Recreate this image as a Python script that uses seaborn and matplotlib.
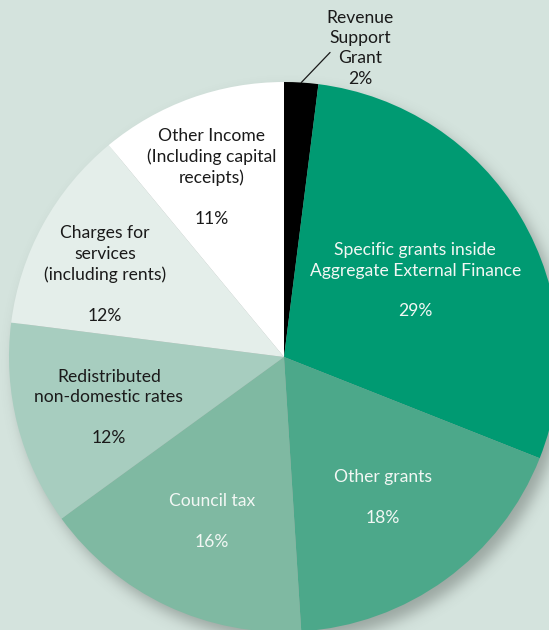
import math
import numpy as np
import matplotlib
matplotlib.use("Agg")
import matplotlib.pyplot as plt
import seaborn as sns

# Sources of income, listed clockwise from twelve o'clock
categories = [
    "Revenue\nSupport\nGrant",
    "Specific grants inside\nAggregate External Finance",
    "Other grants",
    "Council tax",
    "Redistributed\nnon-domestic rates",
    "Charges for\nservices\n(including rents)",
    "Other Income\n(Including capital\nreceipts)",
]
shares = [2, 29, 18, 16, 12, 12, 11]

slice_colors = ["#000000", "#009a72", "#4ca88a", "#7fb9a2", "#a7cdbf", "#e4eeea", "#ffffff"]
text_colors = ["#1a1a1a", "#f2f7f4", "#f2f7f4", "#f2f7f4", "#1a1a1a", "#1a1a1a", "#1a1a1a"]
# label placement inside each slice: distance from the centre as a fraction
# of the radius, and a small turn (degrees) away from the slice's mid-line
label_radius = [None, 0.555, 0.62, 0.648, 0.661, 0.719, 0.709]
label_turn = [0.0, 0.0, -0.5, 1.4, 1.2, 3.7, 2.0]

sns.set_theme(style="white")
plt.rcParams["font.family"] = ["Lato", "DejaVu Sans"]

W, H = 549, 630
BG = "#d4e3dd"
fig = plt.figure(figsize=(W / 100, H / 100), dpi=100)
fig.patch.set_facecolor(BG)
ax = fig.add_axes([0, 0, 1, 1])
ax.set_facecolor(BG)

cx, cy, R = 284.0, H - 357.0, 275.0

# soft drop shadow beneath the pie, shifted down and to the right
sx, sy, sigma, a0 = 7.0, -9.0, 7.0, 0.42
yy, xx = np.mgrid[0:H, 0:W] + 0.5
d = np.hypot(xx - (cx + sx), yy - (cy + sy))
erfc = np.vectorize(math.erfc)
alpha = a0 * 0.5 * erfc((d - R) / (math.sqrt(2) * sigma))
shadow = np.zeros((H, W, 4))
shadow[..., 0] = 0.30
shadow[..., 1] = 0.33
shadow[..., 2] = 0.31
shadow[..., 3] = alpha
ax.imshow(shadow, extent=(0, W, 0, H), origin="lower", zorder=0, interpolation="bilinear")

wedges, _ = ax.pie(
    shares,
    colors=slice_colors,
    startangle=90,
    counterclock=False,
    center=(cx, cy),
    radius=R,
    wedgeprops=dict(linewidth=0, zorder=1),
)
for w in wedges:
    w.set_zorder(1)

ax.set_xlim(0, W)
ax.set_ylim(0, H)
ax.set_aspect("equal")
ax.axis("off")

FS = 12.6
LS = 1.34
for i, w in enumerate(wedges):
    if label_radius[i] is None:
        continue
    mid = math.radians((w.theta1 + w.theta2) / 2 + label_turn[i])
    f = label_radius[i] * R
    ax.text(cx + f * math.cos(mid), cy + f * math.sin(mid) - 1.5,
            f"{categories[i]}\n\n{shares[i]}%",
            ha="center", va="center", multialignment="center",
            fontsize=FS, color=text_colors[i], linespacing=LS, zorder=3)

# the thin slice is labelled outside the pie with a leader line
w0 = wedges[0]
mid0 = math.radians((w0.theta1 + w0.theta2) / 2)
tip = math.radians(81.4)
ax.plot([cx + R * math.cos(mid0), cx + 1.12 * R * math.cos(tip)],
        [cy + R * math.sin(mid0), cy + 1.12 * R * math.sin(tip)],
        color="#1a1a1a", lw=0.9, zorder=3)
lab = math.radians(76.2)
ax.text(cx + 1.16 * R * math.cos(lab), cy + 1.16 * R * math.sin(lab) - 1.0,
        f"{categories[0]}\n{shares[0]}%",
        ha="center", va="center", multialignment="center",
        fontsize=FS, color=text_colors[0], linespacing=LS, zorder=3)

fig.savefig("out.png", dpi=100, facecolor=BG)
